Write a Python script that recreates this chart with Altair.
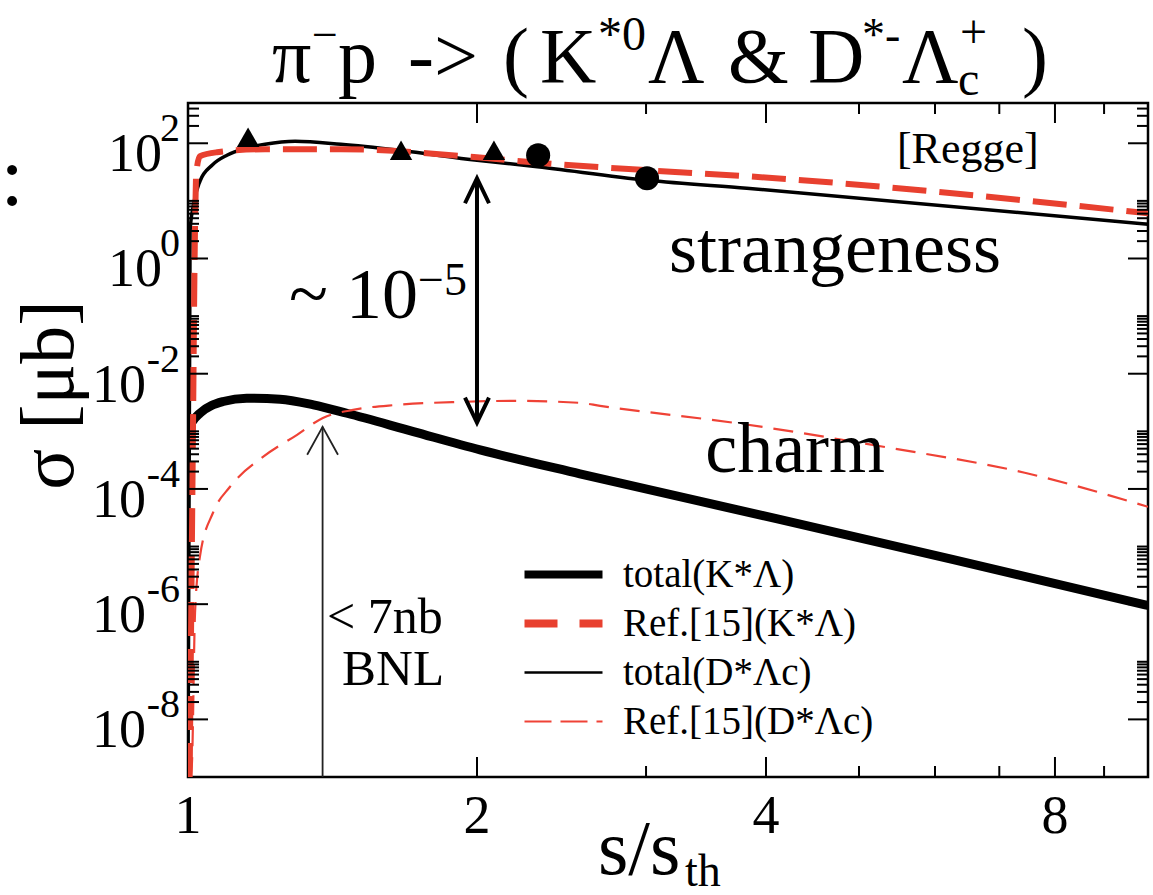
import json
import altair as alt
import pandas as pd

FONT = "Liberation Serif"
PL, PT = 188, 103          # plot-area origin inside the 1153x895 page
W, H = 960, 674            # plot-area size

# ---------------- data ----------------
# strangeness: total (thin black solid)
sk_total_x = [1.0, 1.005, 1.013, 1.029, 1.06, 1.098, 1.15, 1.203, 1.293, 1.443, 1.659, 2.0, 2.287, 3.008, 3.82, 10.0]
sk_total_y = [1e-9, 3.0, 8.4, 21.9, 42.0, 62.0, 82.0, 96.0, 108.0, 96.0, 75.6, 50.7, 39.9, 22.9, 16.6, 3.94]
# strangeness: Ref.[15] (thick red dashed)
sk_ref_x = [1.004, 1.008, 1.012, 1.016, 1.020, 1.029, 1.072, 1.203, 1.443, 2.0, 2.287, 3.008, 3.82, 10.0]
sk_ref_y = [1e-9, 1e-6, 1e-3, 1.0, 30.0, 59.6, 69.8, 78.8, 78.8, 57.2, 46.8, 34.1, 26.8, 6.1]
# charm: total (thick black solid)
ch_total_x = [1.0, 1.01, 1.029, 1.088, 1.151, 1.247, 1.351, 1.464, 1.717, 2.015, 2.56, 4.10, 6.27, 10.0]
ch_total_y = [1.06e-3, 1.46e-3, 2.06e-3, 3.29e-3, 3.76e-3, 3.61e-3, 2.88e-3, 2.06e-3, 9.9e-4, 4.77e-4, 1.83e-4, 3.05e-5, 5.93e-6, 9.5e-7]
# charm: Ref.[15] (thin red dashed)
ch_ref_x = [1.006, 1.0096, 1.017, 1.029, 1.062, 1.106, 1.197, 1.299, 1.382, 1.486, 1.651, 1.933, 2.18, 2.56, 2.687, 3.77, 5.30, 7.44, 10.0]
ch_ref_y = [1e-9, 1.8e-9, 7.1e-7, 6.7e-6, 3.9e-5, 1.09e-4, 3.6e-4, 8.7e-4, 1.71e-3, 2.36e-3, 2.88e-3, 3.25e-3, 3.38e-3, 3.12e-3, 2.77e-3, 1.35e-3, 5.4e-4, 1.91e-4, 4.9e-5]
# experimental points
tri_x = [1.155, 1.667, 2.083]
tri_y = [127.0, 75.7, 75.7]
circ_x = [2.316, 3.007]
circ_y = [62.0, 24.7]
# arrows
bnl_x, bnl_top = 1.381, 1.2e-3
gap_x, gap_top, gap_bottom = 2.0, 24.7, 1.42e-3

# axis ticks / labels
x_label_vals = [1, 2, 4, 8]
x_major = [2, 4, 8]
x_minor = [3, 5, 6, 7, 9]
y_exponents = [2, 0, -2, -4, -6, -8]
minor_mults = [2, 3, 4, 5, 6, 7, 8, 9, 10]
y_major = [10.0 ** e for e in y_exponents]
y_minor = [m * 10.0 ** e for e in y_exponents for m in minor_mults if m * 10.0 ** e < 500]

# legend
leg_labels = ["total(K*Λ)", "Ref.[15](K*Λ)", "total(D*Λc)", "Ref.[15](D*Λc)"]
leg_colors = ["#000000", "#e8402f", "#000000", "#ef4236"]
leg_dashes = [[1, 0], [33, 22], [1, 0], [27, 9]]
leg_widths = [8, 8, 2.5, 2]

# ---------------- scales ----------------
xs = alt.Scale(type="log", domain=[1, 10], nice=False)
ys = alt.Scale(type="log", domain=[1e-9, 500], nice=False)


def XY(df_x="x", df_y="y"):
    return dict(x=alt.X(f"{df_x}:Q", scale=xs, axis=None), y=alt.Y(f"{df_y}:Q", scale=ys, axis=None))


def curve(xv, yv, color, width, dash=None):
    df = pd.DataFrame({"x": xv, "y": yv})
    kw = dict(color=color, strokeWidth=width, clip=True, strokeCap="butt", interpolate="monotone")
    if dash:
        kw["strokeDash"] = dash
    return alt.Chart(df).mark_line(**kw).encode(**XY())


layers = []
layers.append(curve(ch_total_x, ch_total_y, "black", 9))
layers.append(curve(ch_ref_x, ch_ref_y, "#ef4236", 2.2, dash=[20, 11]))
layers.append(curve(sk_total_x, sk_total_y, "black", 3.5))
layers.append(curve(sk_ref_x, sk_ref_y, "#e8402f", 6, dash=[34, 13]))

layers.append(alt.Chart(pd.DataFrame({"x": tri_x, "y": tri_y})).mark_point(
    shape="triangle-up", filled=True, size=500, color="black", opacity=1).encode(**XY()))
layers.append(alt.Chart(pd.DataFrame({"x": circ_x, "y": circ_y})).mark_point(
    shape="circle", filled=True, size=580, color="black", opacity=1).encode(**XY()))

# BNL limit arrow
layers.append(alt.Chart(pd.DataFrame({"x": [bnl_x], "y": [1e-9], "y2": [bnl_top]})).mark_rule(
    color="#222222", strokeWidth=1.8).encode(x=alt.X("x:Q", scale=xs, axis=None),
                                            y=alt.Y("y:Q", scale=ys, axis=None), y2="y2:Q"))
layers.append(alt.Chart(pd.DataFrame({"x": [bnl_x], "y": [bnl_top]})).mark_point(
    shape="M -0.55 1 L 0 0 L 0.55 1", filled=False, size=3136, color="#222222",
    strokeWidth=1.8, opacity=1).encode(**XY()))

# ~1e-5 double arrow
layers.append(alt.Chart(pd.DataFrame({"x": [gap_x], "y": [gap_bottom], "y2": [gap_top]})).mark_rule(
    color="black", strokeWidth=4).encode(x=alt.X("x:Q", scale=xs, axis=None),
                                         y=alt.Y("y:Q", scale=ys, axis=None), y2="y2:Q"))
layers.append(alt.Chart(pd.DataFrame({"x": [gap_x], "y": [gap_top]})).mark_point(
    shape="M -0.48 1 L 0 0 L 0.48 1", filled=False, size=2500, color="black",
    strokeWidth=4, opacity=1).encode(**XY()))
layers.append(alt.Chart(pd.DataFrame({"x": [gap_x], "y": [gap_bottom]})).mark_point(
    shape="M -0.48 -1 L 0 0 L 0.48 -1", filled=False, size=2500, color="black",
    strokeWidth=4, opacity=1).encode(**XY()))


# ---------------- ticks (inward, all four sides) ----------------
def xticks(vals, length):
    df = pd.DataFrame({"v": vals})
    base = alt.Chart(df).mark_rule(color="black", strokeWidth=2)
    bx = alt.X("v:Q", scale=xs, axis=None)
    return [base.encode(x=bx, y=alt.value(H), y2=alt.value(H - length)),
            base.encode(x=bx, y=alt.value(0), y2=alt.value(length))]


def yticks(vals, length):
    df = pd.DataFrame({"v": vals})
    base = alt.Chart(df).mark_rule(color="black", strokeWidth=2)
    by = alt.Y("v:Q", scale=ys, axis=None)
    return [base.encode(y=by, x=alt.value(0), x2=alt.value(length)),
            base.encode(y=by, x=alt.value(W), x2=alt.value(W - length))]


layers += xticks(x_major, 20) + xticks(x_minor, 11) + yticks(y_major, 20) + yticks(y_minor, 11)

# ---------------- x tick labels ----------------
xlab = pd.DataFrame({"v": x_label_vals, "t": [str(v) for v in x_label_vals]})
layers.append(alt.Chart(xlab).mark_text(font=FONT, fontSize=54, align="center", baseline="alphabetic",
                                        color="black").encode(
    x=alt.X("v:Q", scale=xs, axis=None), y=alt.value(H + 56), text="t:N"))

# ---------------- y tick labels: "10" + exponent ----------------
ylab = pd.DataFrame({"e": y_exponents, "v": y_major, "base": ["10"] * len(y_exponents),
                     "exp": [str(e) for e in y_exponents]})
ybase = alt.Chart(ylab).mark_text(font=FONT, fontSize=54, align="right", baseline="alphabetic",
                                  dy=28, color="black")
layers.append(ybase.transform_filter("datum.e >= 0").encode(
    y=alt.Y("v:Q", scale=ys, axis=None), x=alt.value(-26), text="base:N"))
layers.append(ybase.transform_filter("datum.e < 0").encode(
    y=alt.Y("v:Q", scale=ys, axis=None), x=alt.value(-42), text="base:N"))
layers.append(alt.Chart(ylab).mark_text(font=FONT, fontSize=40, align="right", baseline="alphabetic",
                                        dy=-2, color="black").encode(
    y=alt.Y("v:Q", scale=ys, axis=None), x=alt.value(-8), text="exp:N"))


# ---------------- annotations (data coordinates) ----------------
def note(text, x, y, size, align="center"):
    df = pd.DataFrame({"t": [text], "x": [x], "y": [y]})
    return alt.Chart(df).mark_text(font=FONT, fontSize=size, align=align, baseline="alphabetic",
                                   color="black").encode(text="t:N", **XY())


layers.append(note("[Regge]", 6.49, 45.0, 44))
layers.append(note("strangeness", 4.72, 0.58, 72))
layers.append(note("charm", 4.29, 1.99e-4, 72))
layers.append(note("~ 10", 1.736, 0.0927, 72, align="right"))
layers.append(note("−5", 1.736, 0.232, 46, align="left"))
layers.append(note("< 7nb", 1.396, 3.2e-7, 50, align="left"))
layers.append(note("BNL", 1.447, 4.0e-8, 51, align="left"))
layers.append(note(":", 0.656, 8.4, 84))


# ---------------- title / axis titles (page layout) ----------------
def piece(text, px, py, size, align="left", angle=0, baseline="alphabetic"):
    df = pd.DataFrame({"t": [text]})
    kw = dict(font=FONT, fontSize=size, align=align, baseline=baseline, color="black")
    if angle:
        kw["angle"] = angle
    return alt.Chart(df).mark_text(**kw).encode(text="t:N", x=alt.value(px - PL), y=alt.value(py - PT))


title_pieces = [("π", 272, 82, 78), ("−", 312, 50, 46), ("p", 338, 82, 78), ("->", 408, 82, 78),
                ("(", 503, 82, 78), ("K", 540, 82, 78), ("*0", 598, 50, 48), ("Λ", 648, 82, 78),
                ("&", 728, 82, 78), ("D", 808, 82, 78), ("*-", 862, 50, 46), ("Λ", 902, 82, 78),
                ("c", 958, 95, 48), ("+", 960, 48, 48), (")", 1022, 82, 78)]
for t, px, py, sz in title_pieces:
    layers.append(piece(t, px, py, sz))

layers.append(piece("σ [μb]", 50, 395, 76, align="center", angle=270, baseline="middle"))
layers.append(piece("s/s", 598, 874, 78))
layers.append(piece("th", 685, 886, 46))

# ---------------- legend (as printed in the figure) ----------------
def expr_pick(values):
    out = json.dumps(values[-1])
    for lab, val in zip(leg_labels[-2::-1], values[-2::-1]):
        out = f"datum.value === {json.dumps(lab)} ? {json.dumps(val)} : ({out})"
    return out


leg_df = pd.DataFrame({"entry": leg_labels, "x": [1.5] * 4, "y": [1e-5] * 4})
layers.append(alt.Chart(leg_df).mark_line(opacity=0).encode(
    x=alt.X("x:Q", scale=xs, axis=None), y=alt.Y("y:Q", scale=ys, axis=None),
    color=alt.Color("entry:N", scale=alt.Scale(domain=leg_labels, range=leg_colors),
                    legend=alt.Legend(title=None, orient="none", legendX=356, legendY=452,
                                      symbolType="stroke", symbolSize=6084,
                                      symbolStrokeWidth={"expr": expr_pick(leg_widths)},
                                      symbolDash={"expr": expr_pick(leg_dashes)},
                                      symbolOpacity=1, labelFont=FONT, labelFontSize=39,
                                      labelColor="black", labelLimit=0, labelOffset=40,
                                      rowPadding=9, padding=0))))

chart = alt.layer(*layers).properties(
    width=W, height=H,
    autosize=alt.AutoSizeParams(type="none"),
    padding={"left": PL, "top": PT, "right": 1153 - PL - W, "bottom": 895 - PT - H},
    background="white",
).configure_view(stroke="black", strokeWidth=2.5)

chart.save("out.html", embed_options={"renderer": "svg", "actions": False})
